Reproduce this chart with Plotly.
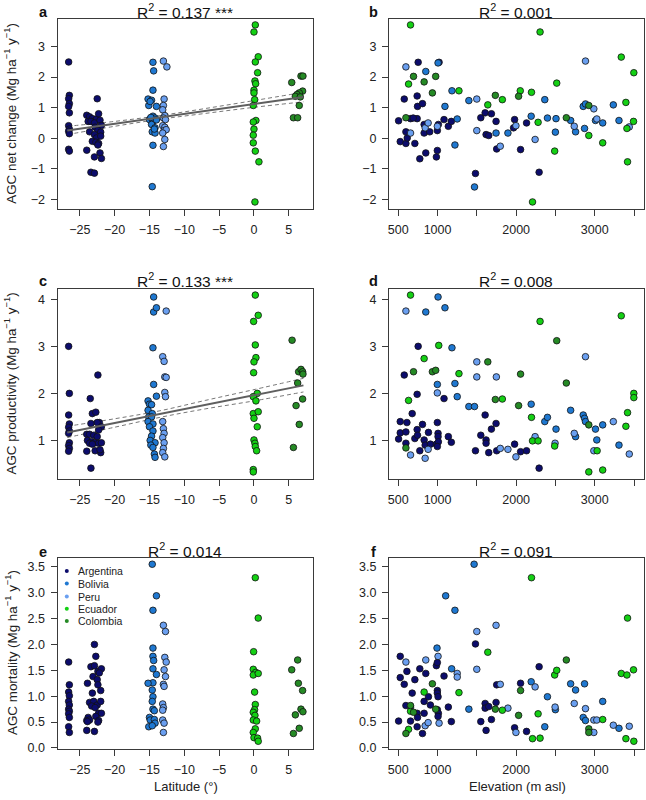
import plotly.graph_objects as go

# =====================================================
# Data
# =====================================================

COUNTRIES = ["Argentina", "Bolivia", "Peru", "Ecuador", "Colombia"]
COLORS = ["#0c0c6c", "#1f78d1", "#6a9ff0", "#14d014", "#258a25"]

# --- panel a: AGC net change vs latitude
a_arg_x = [-26.6, -26.5, -26.6, -26.5, -26.6, -26.5, -26.6, -26.5, -26.6, -26.5, -26.6, -26.5,
           -22.5, -24.0, -23.6, -23.2, -22.6, -22.3, -23.8, -23.4, -22.9, -22.1, -22.8, -23.6,
           -21.9, -22.4, -22.0, -22.9, -22.6, -22.0, -23.2, -22.7, -22.3, -22.4, -24.0, -22.1,
           -21.9, -22.9, -23.4, -22.9]
a_arg_y = [2.49, 1.40, 1.29, 1.13, 1.04, 0.83, 0.41, 0.30, 0.23, 0.15, -0.36, -0.42,
           1.29, 0.75, 0.70, 0.64, 0.63, 0.80, 0.55, 0.55, 0.50, 0.59, 0.36, 0.21,
           0.42, 0.26, 0.20, 0.12, 0.01, 0.07, -0.10, -0.13, -0.17, -0.22, -0.39, -0.48,
           -0.66, -0.61, -1.11, -1.14]
a_bol_x = [-14.5, -14.4, -14.5, -15.2, -14.7, -15.1, -14.0, -14.5, -14.2, -15.0, -14.5, -14.0,
           -14.7, -14.2, -14.6, -14.2, -14.5, -14.6, -14.8, -14.3, -14.9]
a_bol_y = [2.48, 2.20, 1.57, 1.28, 1.24, 1.07, 1.04, 0.72, 0.66, 0.61, 0.55, 0.60,
           0.45, 0.34, 0.21, 0.17, -0.23, -1.58, 0.68, 0.30, 1.20]
a_per_x = [-13.0, -12.5, -12.9, -13.0, -13.1, -12.8, -13.0, -12.7, -13.1, -12.8, -12.9, -12.6,
           -13.1, -12.8, -13.0]
a_per_y = [2.52, 2.33, 1.28, 1.07, 0.93, 0.74, 0.66, 0.61, 0.41, 0.36, 0.25, 0.28,
           0.17, -0.04, -0.27]
a_ecu_x = [0.19, 0.0, 0.61, 0.19, 0.52, 0.14, 0.24, 0.0, 0.0, 0.1, -0.1, 0.28, -0.1, 0.0,
           -0.1, -0.1, 0.19, 0.71, 0.14]
a_ecu_y = [3.70, 3.47, 2.66, 2.49, 2.14, 1.87, 1.78, 1.57, 1.48, 1.26, 1.07, 0.58, 0.53, 0.30,
           0.10, -0.15, -0.42, -0.77, -2.08]
a_col_x = [5.42, 6.75, 7.03, 6.98, 6.5, 6.18, 5.94, 6.65, 6.5, 5.66, 6.27]
a_col_y = [1.82, 2.03, 2.03, 1.54, 1.48, 1.43, 1.37, 1.35, 1.07, 0.67, 0.67]

# --- panel c: AGC productivity vs latitude
c_arg_x = [-26.6, -26.5, -26.6, -26.5, -26.6, -26.5, -26.6, -26.5, -26.6, -26.5, -26.6,
           -22.4, -23.5, -23.2, -22.7, -22.2, -22.5, -23.4, -21.9, -22.3, -24.0, -23.6, -23.0,
           -22.5, -23.9, -23.3, -22.8, -22.3, -21.9, -23.6, -23.2, -24.0, -22.8, -22.0, -22.1,
           -23.4]
c_arg_y = [3.00, 2.00, 1.54, 1.35, 1.28, 1.20, 1.15, 0.95, 0.89, 0.83, 0.77,
           2.39, 1.89, 1.57, 1.60, 1.38, 1.38, 1.36, 1.29, 1.22, 1.13, 1.13, 1.11,
           1.08, 1.00, 0.97, 0.95, 0.94, 0.95, 0.94, 0.92, 0.77, 0.78, 0.74, 0.80,
           0.41]
c_bol_x = [-14.4, -14.4, -14.0, -14.5, -14.4, -14.0, -15.2, -15.0, -14.7, -15.2, -14.6, -15.1,
           -14.7, -15.2, -14.5, -15.0, -14.5, -14.7, -14.9, -14.2, -14.8, -14.5, -14.3, -14.2]
c_bol_y = [4.05, 3.73, 3.82, 2.97, 2.19, 1.94, 1.84, 1.77, 1.76, 1.64, 1.57, 1.50,
           1.50, 1.40, 1.35, 1.29, 1.20, 1.09, 1.00, 0.95, 0.90, 0.85, 0.71, 0.64]
c_per_x = [-12.6, -13.1, -12.9, -12.8, -12.6, -12.8, -12.7, -13.1, -13.0, -12.9, -13.1, -12.9,
           -13.0, -13.1, -12.8]
c_per_y = [3.75, 2.78, 2.68, 2.35, 2.34, 2.02, 1.93, 1.40, 1.25, 1.15, 1.06, 0.95,
           0.83, 0.74, 0.65]
c_ecu_x = [0.19, 0.61, -0.05, 0.19, 0.28, 0.0, -0.05, 0.47, -0.1, 0.28, -0.1, 0.61, 0.0, 0.47,
           0.0, 0.14, 0.19, 0.38, -0.1, -0.1]
c_ecu_y = [4.09, 3.66, 3.53, 3.03, 2.76, 2.67, 2.44, 2.00, 1.93, 1.84, 1.57, 1.61, 1.47, 1.29,
           1.01, 0.94, 0.87, 0.78, 0.38, 0.33]
c_col_x = [5.47, 6.41, 6.75, 6.98, 7.03, 6.27, 6.98, 6.04, 6.5, 5.66]
c_col_y = [3.13, 2.46, 2.51, 2.46, 2.41, 2.22, 1.88, 1.74, 1.34, 0.85]

# --- panel e: AGC mortality vs latitude
e_arg_x = [-26.6, -26.5, -26.6, -26.5, -26.6, -26.5, -26.6, -26.5, -26.6, -26.5, -26.6, -26.5,
           -22.9, -22.7, -23.4, -22.9, -22.4, -21.9, -22.2, -23.9, -23.1, -22.5, -22.4, -22.0,
           -23.2, -23.6, -23.0, -22.5, -22.0, -23.3, -22.8, -22.3, -21.9, -23.8, -24.0, -23.6,
           -22.7, -22.3, -23.9, -22.4, -24.0, -22.9]
e_arg_y = [1.66, 1.22, 1.08, 1.01, 0.90, 0.83, 0.75, 0.71, 0.66, 0.59, 0.41, 0.30,
           2.00, 1.77, 1.57, 1.59, 1.48, 1.53, 1.45, 1.25, 1.38, 1.32, 1.22, 1.11,
           1.06, 0.88, 0.90, 0.83, 0.90, 0.81, 0.78, 0.67, 0.67, 0.59, 0.53, 0.54,
           0.61, 0.53, 0.51, 0.50, 0.34, 0.32]
e_bol_x = [-14.6, -14.0, -14.5, -14.5, -14.5, -14.4, -14.5, -14.0, -14.5, -15.2, -14.6, -14.5,
           -14.6, -14.5, -14.3, -15.0, -14.9, -14.3, -14.2, -15.1, -14.6]
e_bol_y = [3.55, 2.94, 2.66, 1.93, 1.77, 1.69, 1.53, 1.42, 1.26, 1.25, 1.12, 0.99,
           0.90, 0.75, 0.72, 0.59, 0.54, 0.55, 0.48, 0.41, 0.43]
e_per_x = [-13.0, -12.7, -12.8, -12.6, -12.9, -12.7, -13.0, -12.9, -13.1, -13.0, -13.1, -13.1,
           -12.9, -13.0]
e_per_y = [2.37, 2.25, 1.75, 1.66, 1.51, 1.38, 1.23, 1.19, 0.85, 0.78, 0.73, 0.54,
           0.48, 0.30]
e_ecu_x = [0.19, 0.61, -0.05, -0.1, 0.24, -0.1, 0.61, 0.09, 0.19, 0.09, -0.1, 0.14, -0.1, 0.38,
           0.19, -0.1, 0.0, 0.52, 0.61]
e_ecu_y = [3.29, 2.51, 1.86, 1.52, 1.46, 1.41, 1.44, 1.08, 0.84, 0.74, 0.69, 0.63, 0.54, 0.52,
           0.37, 0.30, 0.20, 0.19, 0.13]
e_col_x = [5.42, 6.27, 6.37, 6.98, 5.94, 6.75, 7.03, 6.5, 5.66]
e_col_y = [1.51, 1.70, 1.25, 1.11, 0.64, 0.75, 0.70, 0.38, 0.28]

# --- panel b: AGC net change vs elevation
b_arg_x = [504, 525, 576, 597, 614, 597, 656, 740, 740, 753, 745, 711, 774, 808, 829, 850, 829,
           900, 985, 997, 997, 1010, 1019, 1082, 1137, 1175, 1482, 1550, 1605, 1617, 1651, 1685,
           1744, 1752, 1980, 1967, 2132, 2056, 2292, 690]
b_arg_y = [0.57, -0.11, 1.28, -0.17, 0.01, 0.21, 0.64, 0.64, 1.38, 2.48, 1.04, -0.17, -0.67,
           1.13, 0.45, -0.48, 0.17, 0.21, -0.61, -0.40, 0.25, 0.45, 2.48, 0.61, 0.39, 0.55,
           -1.15, 0.67, 0.83, 0.12, 0.09, 0.80, 0.55, -0.35, 0.61, 0.34, 0.50, -0.37, -1.11, 0.66]
b_bol_x = [850, 1006, 1094, 1183, 1221, 1250, 1398, 1470, 1744, 1895, 2191, 2364, 2398, 2507,
           2499, 2693, 2756, 2870, 2853, 2882, 3009, 3101, 3236, 3308]
b_bol_y = [2.18, 2.46, 1.04, 1.55, -0.22, 0.63, 1.23, -1.59, 0.17, 0.17, 0.72, 1.26, 0.66, 0.64,
           0.20, 0.58, 0.21, 0.32, 1.04, 1.12, 0.58, 0.50, 1.09, 0.58]
b_per_x = [597, 656, 842, 880, 997, 1499, 1499, 1798, 1997, 2241, 2739, 2882, 2988, 3026, 3439]
b_per_y = [2.33, 0.17, 0.34, 0.50, 0.39, 0.25, 1.28, -0.26, 0.41, -0.04, 0.39, 2.52, 0.96, 0.63,
           0.37]
b_ecu_x = [656, 631, 1272, 1639, 1824, 2052, 2195, 2279, 2304, 2208, 2490, 2516, 2924, 3101,
           3337, 3396, 3417, 3409, 3493, 3497]
b_ecu_y = [3.70, 1.77, 1.55, 1.09, 1.26, 1.55, 1.50, 0.52, 3.47, -2.08, -0.42, 1.80, 0.09, -0.15,
           2.65, 1.17, -0.77, 0.32, 0.55, 2.14]
b_col_x = [597, 694, 829, 934, 976, 1735, 2031, 2638, 2924]
b_col_y = [0.67, 2.02, 1.84, 1.48, 2.02, 1.40, 1.37, 0.67, 1.07]

# --- panel d: AGC productivity vs elevation
d_arg_x = [504, 525, 525, 576, 597, 610, 597, 677, 711, 740, 745, 740, 753, 774, 808, 829, 842,
           884, 909, 985, 997, 1006, 1006, 1010, 997, 1082, 1137, 1175, 1482, 1550, 1605, 1617,
           1617, 1651, 1685, 1744, 1752, 1980, 2056, 2132, 2292]
d_arg_y = [1.03, 1.40, 1.16, 2.39, 0.94, 1.38, 1.18, 1.57, 1.04, 1.23, 1.11, 1.98, 3.00, 0.78,
           1.34, 1.01, 0.90, 1.17, 0.92, 0.92, 1.38, 1.15, 1.08, 0.97, 0.87, 1.89, 1.08, 0.96,
           0.78, 1.11, 1.54, 1.01, 0.94, 0.74, 1.24, 1.36, 0.78, 0.92, 0.76, 0.78, 0.41]
d_bol_x = [850, 1006, 1094, 1183, 1221, 1250, 1398, 1470, 2191, 2364, 2398, 2507, 2693, 2756,
           2853, 2870, 2882, 3009, 3026, 3101, 3308, 997]
d_bol_y = [3.73, 4.05, 3.82, 2.97, 2.21, 1.93, 1.72, 1.72, 1.77, 1.40, 1.49, 1.24, 1.64, 1.08,
           1.54, 1.47, 1.40, 1.24, 1.01, 1.33, 0.90, 2.19]
d_per_x = [597, 656, 842, 880, 997, 1499, 1499, 1748, 1798, 1895, 1997, 2241, 2495, 2739, 2882,
           2988, 3236, 3439]
d_per_y = [3.75, 0.69, 0.62, 0.81, 2.01, 2.67, 2.35, 2.35, 0.83, 0.81, 0.65, 1.08, 0.94, 1.15,
           2.78, 0.78, 1.40, 0.71]
d_ecu_x = [656, 631, 829, 1015, 1272, 1824, 2195, 2208, 2279, 2304, 2490, 2924, 3030, 3101, 3337,
           3396, 3417, 3497, 3497]
d_ecu_y = [4.09, 1.85, 2.74, 3.02, 2.42, 1.88, 1.49, 0.99, 0.99, 3.53, 0.88, 0.33, 0.78, 0.37,
           3.65, 1.30, 1.59, 2.00, 1.91]
d_col_x = [597, 694, 934, 976, 1639, 1735, 2031, 2056, 2516, 2638, 2924]
d_col_y = [0.84, 2.46, 2.46, 2.49, 2.67, 1.87, 1.74, 2.41, 3.12, 2.22, 1.33]

# --- panel f: AGC mortality vs elevation
f_arg_x = [504, 525, 525, 576, 597, 610, 656, 677, 711, 740, 745, 740, 774, 808, 829, 829, 850,
           884, 909, 985, 997, 997, 997, 1006, 997, 1010, 1006, 1082, 1137, 1175, 1482, 1550,
           1605, 1605, 1617, 1651, 1685, 1744, 1752, 1980, 2056, 2132, 2292]
f_arg_y = [0.52, 1.77, 1.36, 1.23, 0.82, 1.48, 0.52, 1.06, 1.32, 0.67, 0.59, 0.41, 1.53, 0.28,
           0.67, 0.90, 1.44, 0.99, 0.83, 1.59, 1.65, 1.11, 1.06, 0.99, 0.74, 0.67, 0.61, 1.39,
           0.79, 0.51, 2.01, 0.51, 0.86, 0.77, 0.34, 0.80, 0.55, 0.88, 1.22, 0.39, 1.25, 0.32,
           1.57]
f_bol_x = [993, 1103, 1221, 1179, 1465, 1398, 2191, 2364, 2398, 2499, 2693, 2756, 2870, 2853,
           2882, 3101, 3308]
f_bol_y = [1.93, 2.94, 2.66, 1.53, 3.55, 0.75, 1.28, 0.41, 0.99, 0.74, 1.24, 1.12, 1.24, 0.59,
           0.53, 0.90, 0.38]
f_per_x = [597, 656, 850, 842, 880, 1006, 1019, 1250, 1250, 1499, 1499, 1744, 1798, 1895, 1997,
           2241, 2495, 2739, 2882, 2988, 2988, 3026, 3236, 3439]
f_per_y = [1.66, 0.79, 1.70, 0.43, 0.49, 1.77, 0.48, 1.44, 1.37, 2.25, 1.52, 2.37, 1.23, 0.77,
           0.30, 1.18, 0.79, 0.86, 0.76, 0.54, 0.30, 0.54, 0.44, 0.42]
f_ecu_x = [631, 656, 829, 1272, 1639, 1824, 2195, 2208, 2279, 2304, 2490, 2516, 3101, 3337, 3396,
           3409, 3417, 3493, 3497]
f_ecu_y = [0.36, 0.71, 1.08, 1.07, 1.85, 0.73, 3.29, 0.18, 0.66, 0.19, 1.41, 1.50, 0.55, 1.44,
           0.18, 1.41, 2.51, 1.51, 0.13]
f_col_x = [597, 656, 694, 934, 976, 1735, 2031, 2056, 2638, 2924, 2924]
f_col_y = [0.28, 0.82, 0.69, 1.24, 0.75, 0.75, 0.63, 1.11, 1.70, 0.37, 0.30]

# --- fitted lines (latitude panels) with 95% CI
fit_x = [-26.8, 7.1]
fit_a_y = [0.25, 1.35]
fit_c_y = [1.17, 2.17]
ci_x = [-26.8, -20, -13.5, -7, 0, 7.1]
ci_a_lo = [0.12, 0.39, 0.62, 0.81, 1.01, 1.19]
ci_a_hi = [0.39, 0.55, 0.74, 0.97, 1.23, 1.50]
ci_c_lo = [1.06, 1.28, 1.49, 1.67, 1.84, 2.03]
ci_c_hi = [1.30, 1.46, 1.63, 1.85, 2.08, 2.32]

# titles / labels
R2_TEXT = ["R<sup>2</sup> = 0.137 ***", "R<sup>2</sup> = 0.001",
           "R<sup>2</sup> = 0.133 ***", "R<sup>2</sup> = 0.008",
           "R<sup>2</sup> = 0.014", "R<sup>2</sup> = 0.091"]
PANEL_LETTERS = ["a", "b", "c", "d", "e", "f"]
Y_TITLES = ["AGC net change (Mg ha<sup>−1</sup> y<sup>−1</sup>)",
            "AGC productivity (Mg ha<sup>−1</sup> y<sup>−1</sup>)",
            "AGC mortality (Mg ha<sup>−1</sup> y<sup>−1</sup>)"]
LAT_TICKS = [-25, -20, -15, -10, -5, 0, 5]
ELEV_TICKS = [500, 1000, 1500, 2000, 2500, 3000, 3500]
ELEV_LABELS = ["500", "1000", "", "2000", "", "3000", ""]

panels = [
    [(a_arg_x, a_arg_y), (a_bol_x, a_bol_y), (a_per_x, a_per_y), (a_ecu_x, a_ecu_y), (a_col_x, a_col_y)],
    [(b_arg_x, b_arg_y), (b_bol_x, b_bol_y), (b_per_x, b_per_y), (b_ecu_x, b_ecu_y), (b_col_x, b_col_y)],
    [(c_arg_x, c_arg_y), (c_bol_x, c_bol_y), (c_per_x, c_per_y), (c_ecu_x, c_ecu_y), (c_col_x, c_col_y)],
    [(d_arg_x, d_arg_y), (d_bol_x, d_bol_y), (d_per_x, d_per_y), (d_ecu_x, d_ecu_y), (d_col_x, d_col_y)],
    [(e_arg_x, e_arg_y), (e_bol_x, e_bol_y), (e_per_x, e_per_y), (e_ecu_x, e_ecu_y), (e_col_x, e_col_y)],
    [(f_arg_x, f_arg_y), (f_bol_x, f_bol_y), (f_per_x, f_per_y), (f_ecu_x, f_ecu_y), (f_col_x, f_col_y)],
]

# =====================================================
# Layout geometry (pixels in a 646 x 800 page)
# =====================================================

W, H = 646, 800
FONT = "Liberation Sans, Arial, sans-serif"
AXC = "#3a3a3a"


def px(x):
    return x / W


def py(y):
    return 1 - y / H


col_dom = [(57.5, 312.5), (389, 643.5)]
row_dom = [(18.5, 209), (288.5, 478.5), (557.5, 748.5)]
y_ranges = [[-2.31, 3.91], [0.19, 4.23], [-0.01, 3.68]]
y_ticks = [[-2, -1, 0, 1, 2, 3], [1, 2, 3, 4], [0, 0.5, 1, 1.5, 2, 2.5, 3, 3.5]]
y_fmt = ["", "", ".1f"]

fig = go.Figure()
layout = {}
annotations = []

for i in range(6):
    r, c = divmod(i, 2)
    n = i + 1
    xa = "xaxis" if n == 1 else f"xaxis{n}"
    ya = "yaxis" if n == 1 else f"yaxis{n}"
    xref = "x" if n == 1 else f"x{n}"
    yref = "y" if n == 1 else f"y{n}"

    common = dict(
        showline=True, mirror=True, linecolor=AXC, linewidth=1,
        ticks="outside", ticklen=6, tickwidth=1, tickcolor=AXC,
        showgrid=False, zeroline=False, automargin=False,
        tickfont=dict(family=FONT, size=12.5, color="#222"),
    )
    if c == 0:
        layout[xa] = dict(common, domain=[px(col_dom[c][0]), px(col_dom[c][1])],
                          range=[-28.2, 8.4], tickvals=LAT_TICKS, anchor=yref,
                          ticklabelstandoff=3)
    else:
        layout[xa] = dict(common, domain=[px(col_dom[c][0]), px(col_dom[c][1])],
                          range=[382, 3620], tickvals=ELEV_TICKS, ticktext=ELEV_LABELS,
                          anchor=yref, ticklabelstandoff=3)
    layout[ya] = dict(common, domain=[py(row_dom[r][1]), py(row_dom[r][0])],
                      range=y_ranges[r], tickvals=y_ticks[r], tickformat=y_fmt[r],
                      anchor=xref, ticklabelstandoff=3)

    # confidence bands (dashed) in panels a and c
    if i in (0, 2):
        lo, hi = (ci_a_lo, ci_a_hi) if i == 0 else (ci_c_lo, ci_c_hi)
        for band in (lo, hi):
            fig.add_trace(go.Scatter(
                x=ci_x, y=band, mode="lines", xaxis=xref, yaxis=yref,
                line=dict(color="#777777", width=1, dash="4px,3px", shape="spline"),
                showlegend=False, hoverinfo="skip"))

    for k, (xs, ys) in enumerate(panels[i]):
        fig.add_trace(go.Scatter(
            x=xs, y=ys, mode="markers", xaxis=xref, yaxis=yref,
            name=COUNTRIES[k], showlegend=False,
            marker=dict(size=6.6, color=COLORS[k], line=dict(color="#111111", width=0.8)),
        ))

    if i in (0, 2):
        fig.add_trace(go.Scatter(
            x=fit_x, y=fit_a_y if i == 0 else fit_c_y, mode="lines",
            xaxis=xref, yaxis=yref, line=dict(color="#5f5f5f", width=2),
            showlegend=False, hoverinfo="skip"))

    # panel title (R2) and letter
    cx = (col_dom[c][0] + col_dom[c][1]) / 2
    ty = [10.5, 280, 550][r]
    annotations.append(dict(
        text=R2_TEXT[i], x=px(cx), y=py(ty), xref="paper", yref="paper",
        showarrow=False, xanchor="center", yanchor="middle",
        font=dict(family=FONT, size=15.5, color="#111")))
    lx = [43, 373][c]
    ly = [12, 281, 551.5][r]
    annotations.append(dict(
        text=f"<b>{PANEL_LETTERS[i]}</b>", x=px(lx), y=py(ly), xref="paper", yref="paper",
        showarrow=False, xanchor="center", yanchor="middle",
        font=dict(family=FONT, size=14.5, color="#111")))

# y-axis titles
for r in range(3):
    annotations.append(dict(
        text=Y_TITLES[r], x=px(11), y=py((row_dom[r][0] + row_dom[r][1]) / 2),
        xref="paper", yref="paper", showarrow=False, textangle=-90,
        xanchor="center", yanchor="middle",
        font=dict(family=FONT, size=13.4, color="#222")))

# x-axis titles
annotations.append(dict(
    text="Latitude (°)", x=px(185.5), y=py(786), xref="paper", yref="paper",
    showarrow=False, xanchor="center", yanchor="middle",
    font=dict(family=FONT, size=13, color="#222")))
annotations.append(dict(
    text="Elevation (m asl)", x=px(517), y=py(786), xref="paper", yref="paper",
    showarrow=False, xanchor="center", yanchor="middle",
    font=dict(family=FONT, size=13, color="#222")))

# legend inside panel e (manual, to get R-like compact spacing)
shapes = []
leg_y = [571, 583.5, 596.5, 608.8, 621]
for k, name in enumerate(COUNTRIES):
    shapes.append(dict(
        type="circle", xref="paper", yref="paper",
        x0=px(64.8), x1=px(68.8), y0=py(leg_y[k] + 2), y1=py(leg_y[k] - 2),
        fillcolor=COLORS[k], line=dict(width=0)))
    annotations.append(dict(
        text=name, x=px(76), y=py(leg_y[k]), xref="paper", yref="paper",
        showarrow=False, xanchor="left", yanchor="middle",
        font=dict(family=FONT, size=10.5, color="#222")))

fig.update_layout(
    **layout,
    width=W, height=H,
    margin=dict(l=0, r=0, t=0, b=0, autoexpand=False),
    paper_bgcolor="white", plot_bgcolor="white",
    showlegend=False,
    annotations=annotations,
    shapes=shapes,
    font=dict(family=FONT),
)

# the default page has an 8px body margin; drop it so the figure fills the window
fig.write_html("out.html", config={"displayModeBar": False},
               post_script="document.body.style.margin='0';")
